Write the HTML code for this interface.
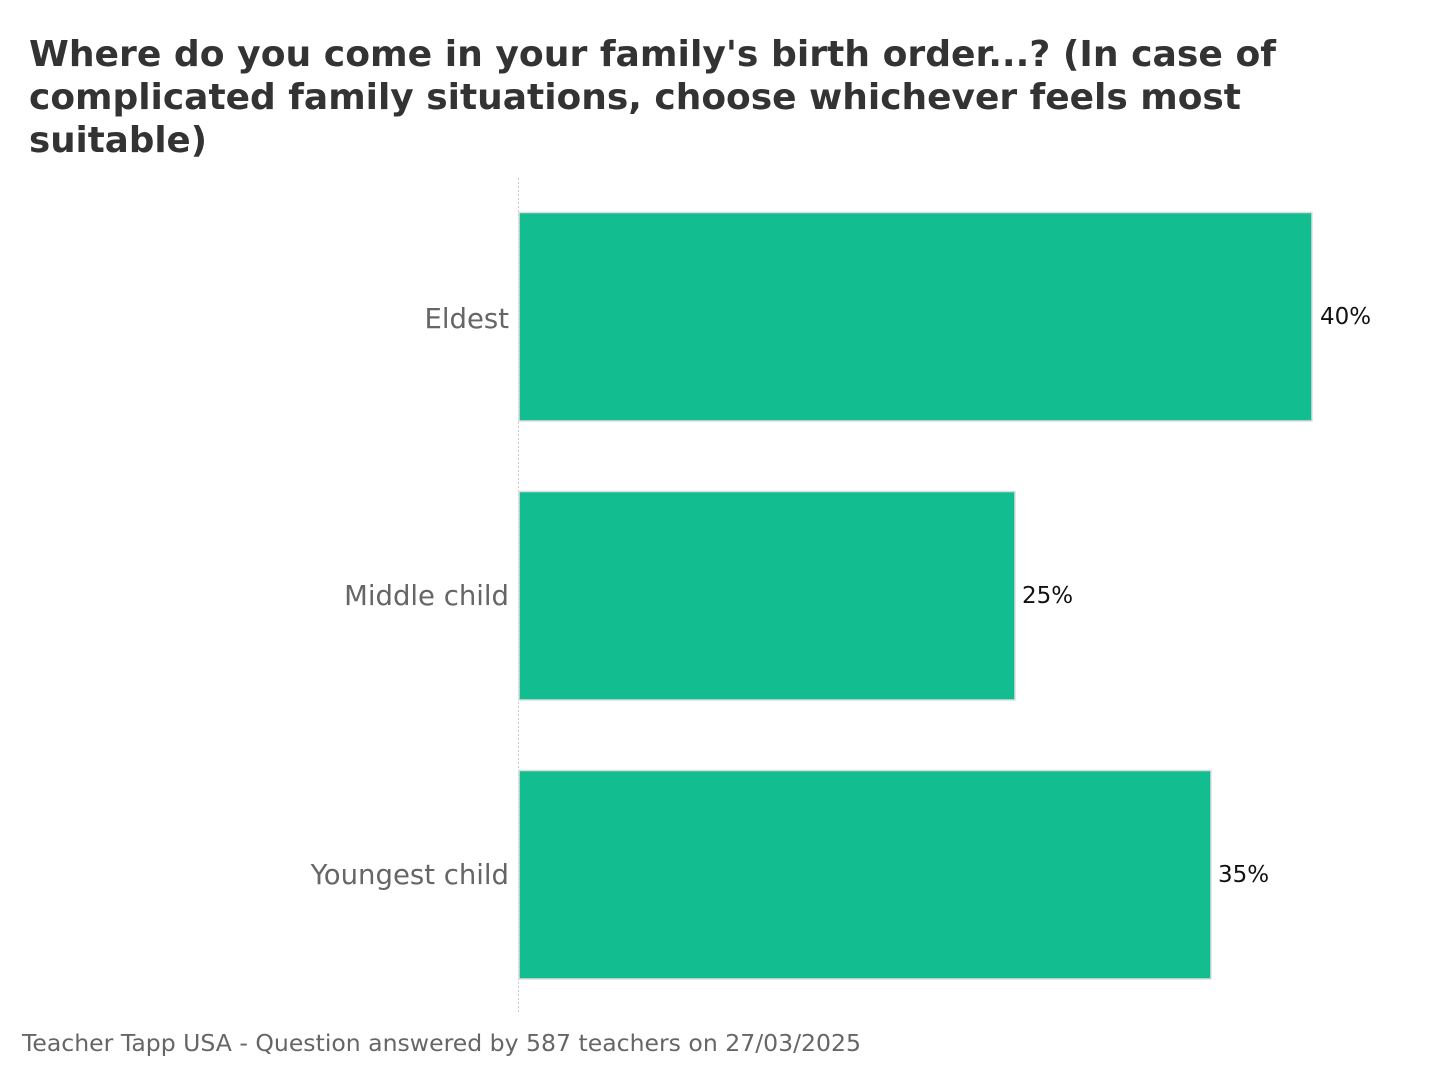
<!DOCTYPE html>
<html><head><meta charset="utf-8"><style>
html,body{margin:0;padding:0;background:#fff;}
svg{display:block;}
</style></head><body>
<svg width="1440" height="1080" xmlns="http://www.w3.org/2000/svg" font-family="DejaVu Sans, Liberation Sans, sans-serif">
<rect width="1440" height="1080" fill="#fff"/>
<g font-weight="bold" font-size="36" fill="#333">
<text x="29" y="66" textLength="1247" lengthAdjust="spacingAndGlyphs">Where do you come in your family's birth order...? (In case of</text>
<text x="29" y="109" textLength="1212" lengthAdjust="spacingAndGlyphs">complicated family situations, choose whichever feels most</text>
<text x="29" y="152" textLength="178" lengthAdjust="spacingAndGlyphs">suitable)</text>
</g>
<line x1="518.5" y1="178" x2="518.5" y2="1012" stroke="#ccc" stroke-width="1" stroke-dasharray="2,2"/>
<g fill="#12BE8F" stroke="#ddd" stroke-width="1.5">
<rect x="519" y="212.5" width="793" height="208.5"/>
<rect x="519" y="491.5" width="496" height="208.5"/>
<rect x="519" y="770.5" width="692" height="208.5"/>
</g>
<g font-size="27.5" fill="#666" text-anchor="end">
<text x="509" y="328">Eldest</text>
<text x="509" y="605">Middle child</text>
<text x="509" y="884">Youngest child</text>
</g>
<g font-size="23" fill="#111">
<text x="1320" y="324">40%</text>
<text x="1022" y="603">25%</text>
<text x="1218" y="882">35%</text>
</g>
<text x="22" y="1051" font-size="23.5" fill="#666" textLength="839" lengthAdjust="spacingAndGlyphs">Teacher Tapp USA - Question answered by 587 teachers on 27/03/2025</text>
</svg>
</body></html>
